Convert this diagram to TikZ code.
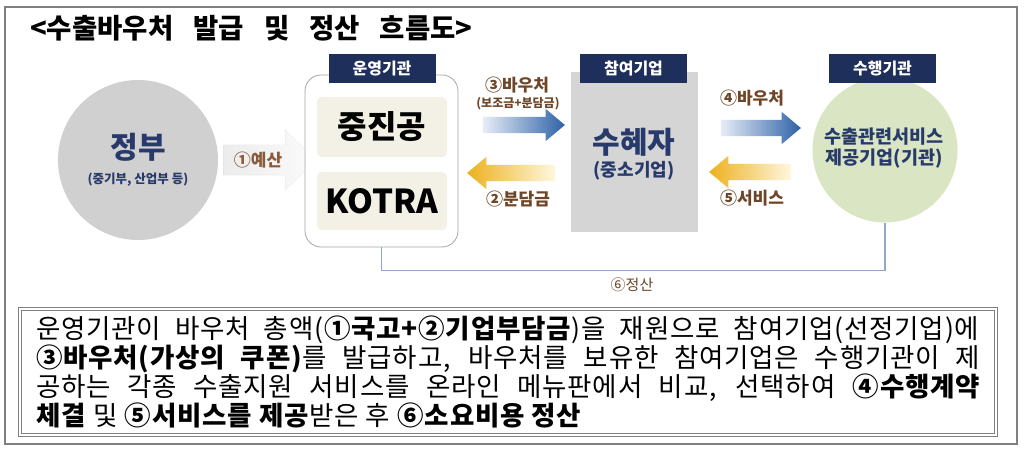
\documentclass[tikz,border=0pt]{standalone}
\usepackage{fontspec}
\setmainfont{Noto Sans CJK KR}
\usetikzlibrary{shapes.arrows,shapes.geometric}
\definecolor{navy}{HTML}{1F2F5B}
\definecolor{txtnavy}{HTML}{283A6B}
\definecolor{brownlab}{HTML}{6E4527}
\definecolor{brownlt}{HTML}{8A5B3A}
\definecolor{govgray}{HTML}{D0D0D0}
\definecolor{boxgray}{HTML}{D5D5D5}
\definecolor{cream}{HTML}{F3F0E5}
\definecolor{svcgreen}{HTML}{D9E5C3}
\definecolor{settleline}{HTML}{8FA9C8}
\definecolor{framegray}{HTML}{808080}
\definecolor{blueD}{HTML}{2E62A6}
\definecolor{blueL}{HTML}{E6EDF7}
\definecolor{goldD}{HTML}{EDB11E}
\definecolor{goldL}{HTML}{FFF7DE}
\newcommand\fsz[1]{\fontsize{#1pt}{#1pt}\selectfont}
\tikzset{
  hdr/.style={fill=navy, text=white, font=\fsz{16}\bfseries, minimum width=107pt, minimum height=29pt, inner sep=0pt},
  orgbox/.style={fill=cream, rounded corners=5pt, minimum width=130pt, inner sep=0pt},
  blk/.style={single arrow, draw=none, inner sep=0pt, outer sep=0pt, text width=0pt,
    text height=8pt, text depth=8pt, single arrow head extend=8pt,
    single arrow head indent=0pt, single arrow tip angle=80},
  rblue/.style={blk, left color=blueL, right color=blueD},
  lgold/.style={blk, shape border rotate=180, left color=goldD, right color=goldL},
  lab/.style={font=\fsz{17}\bfseries, text=brownlab, inner sep=0pt},
  navytxt/.style={text=txtnavy, inner sep=0pt}
}
\begin{document}
\begin{tikzpicture}[x=1pt,y=-1pt]
\useasboundingbox (0,0) rectangle (1024,449);
\fill[white] (0,0) rectangle (1024,449);
\draw[framegray, line width=1.3pt] (5,7) rectangle (1017,444);

\node[anchor=west, inner sep=0pt, font=\fsz{27.5}\bfseries] (title) at (30,28)
  {<수출바우처\hspace{20pt}발급\hspace{20pt}및\hspace{20pt}정산\hspace{20pt}흐름도>};

% faint budget arrow
\node[single arrow, draw=gray!35, densely dotted, inner sep=0pt, text width=0pt,
  text height=15pt, text depth=15pt, single arrow head extend=15pt,
  single arrow head indent=0pt, single arrow tip angle=90,
  minimum height=92pt, left color=gray!15, right color=gray!3] (a1) at (262,160) {};

% government
\node[circle, fill=govgray, minimum size=160pt, inner sep=0pt] (gov) at (138,160) {};
\node[navytxt, font=\fsz{30}\bfseries] (govt) at (138,147) {정부};
\node[navytxt, font=\fsz{12.5}\bfseries] (govs) at (138,180) {(중기부, 산업부 등)};
\node[font=\fsz{17}\bfseries, text=brownlt, inner sep=0pt] (l1) at (258,160) {①예산};

% operating agencies
\node[draw=gray!70, line width=0.8pt, fill=white, rounded corners=16pt,
  minimum width=153pt, minimum height=172pt, inner sep=0pt] (ops) at (381.5,161) {};
\node[hdr] (opsh) at (382,68.5) {운영기관};
\node[orgbox, minimum height=60pt, font=\fsz{32}\bfseries] (kosme) at (382,127) {중진공};
\node[orgbox, minimum height=58pt, font=\fsz{33}\bfseries] (kotra) at (382,201) {KOTRA};

% participating firm
\node[fill=boxgray, minimum width=127pt, minimum height=160pt, inner sep=0pt] (firm) at (634.5,152) {};
\node[hdr] (firmh) at (633.5,69) {참여기업};
\node[navytxt, font=\fsz{30}\bfseries] (firmt) at (634,142) {수혜자};
\node[navytxt, font=\fsz{18}\bfseries] (firms) at (634,171) {(중소기업)};

% service provider
\node[circle, fill=svcgreen, minimum size=145pt, inner sep=0pt] (svc) at (885,150) {};
\node[hdr] (svch) at (882.5,68.5) {수행기관};
\node[navytxt, font=\fsz{18.5}\bfseries, align=center] (svct) at (884,148)
  {수출관련서비스\\[2pt]제공기업(기관)};

% flow arrows
\node[rblue, minimum height=82pt] (a3) at (519,125) {};
\node[lgold, minimum height=88pt] (a2) at (516,173) {};
\node[rblue, minimum height=80pt] (a4) at (756,128) {};
\node[lgold, minimum height=82pt] (a5) at (755,172) {};

\node[lab] (l3) at (517,85) {③바우처};
\node[lab, font=\fsz{12}\bfseries] (l3s) at (518,104) {(보조금+분담금)};
\node[lab] (l2) at (518,199) {②분담금};
\node[lab] (l4) at (752,98) {④바우처};
\node[lab] (l5) at (752,198) {⑤서비스};

% settlement
\draw[settleline, line width=1.5pt] (ops.south) -- ++(0,23) coordinate (sc) -| (svc.south);
\node[font=\fsz{15}, text=brownlab, inner sep=0pt] (l6) at (632,285) {⑥정산};

% description
\node[draw=framegray, double=white, double distance=2pt, line width=1pt,
  minimum width=976pt, minimum height=126pt, inner sep=0pt] (desc) at (508,372)
{\parbox{944pt}{\fsz{26.5}\addfontfeature{LetterSpace=3}\baselineskip=29pt\tolerance=10000\hbadness=10000
운영기관이 바우처 총액(\textbf{①국고+②기업부담금})을 재원으로 참여기업(선정기업)에\linebreak
\textbf{③바우처(가상의 쿠폰)}를 발급하고, 바우처를 보유한 참여기업은 수행기관이 제\linebreak
공하는 각종 수출지원 서비스를 온라인 메뉴판에서 비교, 선택하여 \textbf{④수행계약\linebreak
체결} 및 \textbf{⑤서비스를 제공}받은 후 \textbf{⑥소요비용 정산}}};
\end{tikzpicture}
\end{document}
